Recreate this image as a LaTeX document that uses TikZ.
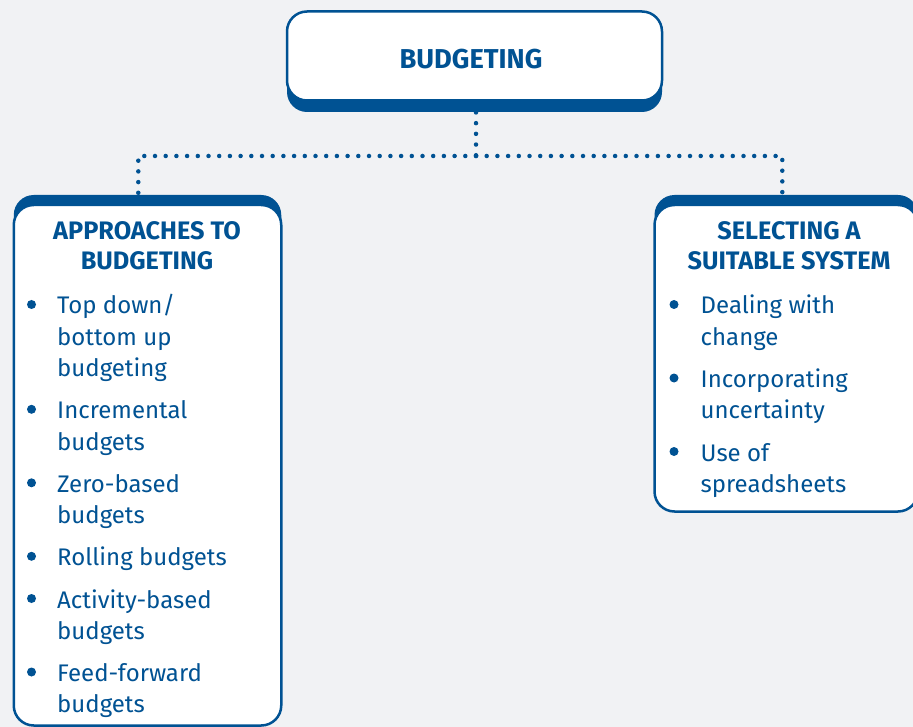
\documentclass[tikz,border=0pt]{standalone}
\usepackage{fontspec}
\setmainfont{Fira Sans}
\usetikzlibrary{shadows}
\definecolor{bl}{RGB}{0,82,147}
\definecolor{bg}{RGB}{241,242,244}
\begin{document}
\begin{tikzpicture}[x=1pt,y=-1pt,
  box/.style={draw=bl, fill=white, line width=2.5pt, rounded corners=20pt, inner sep=0pt},
  head/.style={text=bl, font=\bfseries\fontsize{25.3}{30}\selectfont, inner sep=0pt, anchor=base},
  item/.style={text=bl, font=\fontsize{24}{30}\selectfont, inner sep=0pt, anchor=base west},
  dots/.style={draw=bl, line width=4.5pt, line cap=round, dash pattern=on 0pt off 10.7pt},
  bul/.style={circle, fill=bl, inner sep=0pt, minimum size=9pt}]

\fill[bg] (0,0) rectangle (913,727);
\useasboundingbox (0,0) rectangle (913,727);

% boxes
\node[box, minimum width=375pt, minimum height=89pt,
      general shadow={fill=bl, shadow yshift=-11.5pt}] (top) at (474.5,56) {};
\node[box, minimum width=267.5pt, minimum height=520.5pt,
      general shadow={fill=bl, shadow yshift=10pt}] (left) at (147.5,465.25) {};
\node[box, minimum width=263.5pt, minimum height=306.5pt,
      general shadow={fill=bl, shadow yshift=10pt}] (right) at (786.25,358.25) {};

% connectors
\coordinate (j) at (476,156);
\coordinate (jl) at (138.3,156);
\coordinate (jr) at (782.3,156);
\draw[dots] (top.south -| j) -- (j);
\draw[dots] (j) -- (jl) -- (left.north -| jl);
\draw[dots] (j) -- (jr) -- (right.north -| jr);

% headings
\node[head, font=\bfseries\fontsize{27.3}{30}\selectfont] (t0) at (471,68.3) {BUDGETING};
\node[head] (lh1) at (147,239.3) {APPROACHES TO};
\node[head] (lh2) at (147,270) {BUDGETING};
\node[head] (rh1) at (789,239.3) {SELECTING A};
\node[head] (rh2) at (789,270) {SUITABLE SYSTEM};

% left items
\node[item] (l1) at (57,314) {Top down/};
\node[item] (l2) at (57,345.3) {bottom up};
\node[item] (l3) at (57,376.6) {budgeting};
\node[item] (l4) at (57,418.8) {Incremental};
\node[item] (l5) at (57,450.1) {budgets};
\node[item] (l6) at (57,492.3) {Zero-based};
\node[item] (l7) at (57,523.6) {budgets};
\node[item] (l8) at (57,565.8) {Rolling budgets};
\node[item] (l9) at (57,608) {Activity-based};
\node[item] (l10) at (57,639.3) {budgets};
\node[item] (l11) at (57,681.5) {Feed-forward};
\node[item] (l12) at (57,712.8) {budgets};

\node[bul] (lb1) at (31.5,304.5) {};
\node[bul] (lb2) at (31.5,409.3) {};
\node[bul] (lb3) at (31.5,482.8) {};
\node[bul] (lb4) at (31.5,556.3) {};
\node[bul] (lb5) at (31.5,598.5) {};
\node[bul] (lb6) at (31.5,672) {};

% right items
\node[item] (r1) at (700.5,314) {Dealing with};
\node[item] (r2) at (700.5,345.3) {change};
\node[item] (r3) at (700.5,387.5) {Incorporating};
\node[item] (r4) at (700.5,418.8) {uncertainty};
\node[item] (r5) at (700.5,461) {Use of};
\node[item] (r6) at (700.5,492.3) {spreadsheets};

\node[bul] (rb1) at (674,304.5) {};
\node[bul] (rb2) at (674,378) {};
\node[bul] (rb3) at (674,451.5) {};
\end{tikzpicture}
\end{document}
